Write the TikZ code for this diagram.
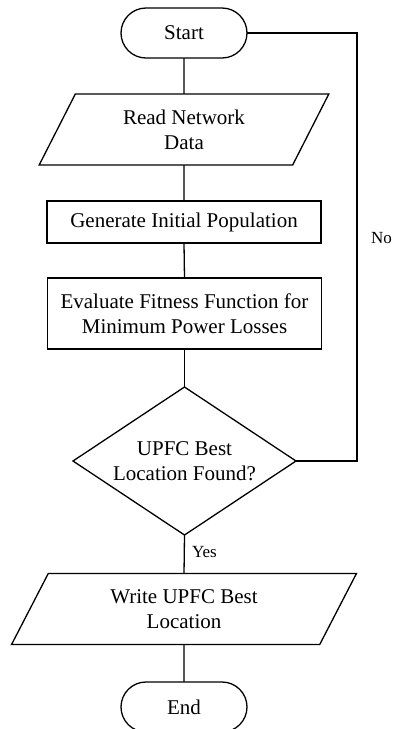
\documentclass[tikz,border=0pt]{standalone}
\usepackage{fontspec}
\setmainfont{Liberation Serif}
\usetikzlibrary{shapes.geometric,shapes.misc}

\begin{document}
\begin{tikzpicture}[x=0.5pt, y=-0.5pt, line width=0.65pt,
	every node/.style={font=\fontsize{10.5}{12.5}\selectfont, align=center, inner sep=0pt, outer sep=0pt},
	terminal/.style={draw, rounded rectangle, minimum width=63pt, minimum height=25pt},
	iobox/.style={draw, trapezium, trapezium left angle=63, trapezium right angle=117, trapezium stretches=true, minimum height=35.5pt},
	procbox/.style={draw, rectangle, minimum width=137pt},
	decision/.style={draw, diamond, aspect=1.5, minimum width=111.5pt, minimum height=74pt},
	tag/.style={font=\fontsize{8.5}{10}\selectfont, anchor=west}]
	\useasboundingbox (0,0) rectangle (392,729);

	% 1. blocks
	\node[terminal] (start) at (184,33) {Start};
	\node[iobox, minimum width=145pt] (read) at (184,129.5) {Read Network\\Data};
	\node[procbox, minimum height=21pt] (gen) at (184,222) {Generate Initial Population};
	\node[procbox, minimum height=35.5pt] (eval) at (184.5,313.5) {Evaluate Fitness Function for\\Minimum Power Losses};
	\node[decision] (dec) at (184.5,461) {UPFC Best\\Location Found?};
	\node[iobox, minimum width=174pt] (write) at (184,609) {Write UPFC Best\\Location};
	\node[terminal] (end) at (184,707) {End};

	% 2. connectors
	\draw (start.south) -- (read.north);
	\draw (read.south) -- (gen.north);
	\draw (gen.south) -- (eval.north);
	\draw (eval.south) -- (dec.north);
	\draw (dec.south) -- (write.north);
	\draw (write.south) -- (end.north);

	% 3. loop back (No)
	\coordinate (corner) at (357,33);
	\draw (start.east) -- (corner) |- (dec.east);
	\node[tag] (no) at (371,238) {No};
	\node[tag] (yes) at (192,552) {Yes};
\end{tikzpicture}
\end{document}
